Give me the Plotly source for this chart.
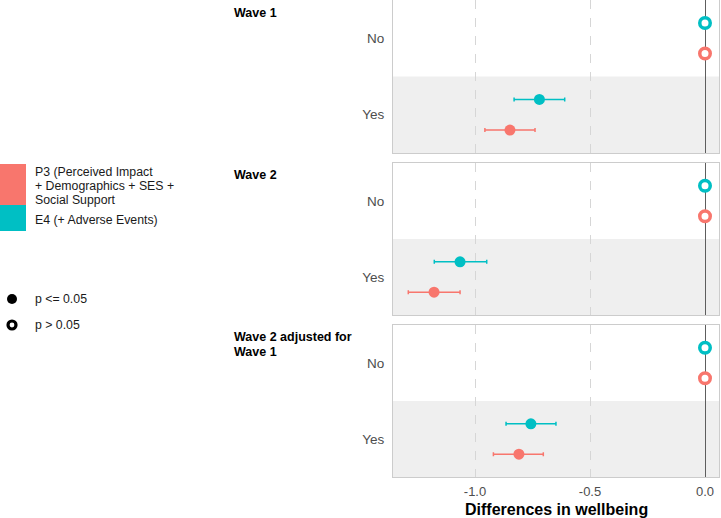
import plotly.graph_objects as go

# ---------------- data ----------------
panel_titles = ["Wave 1", "Wave 2", "Wave 2 adjusted for<br>Wave 1"]
categories = ["No", "Yes"]
model_names = ["P3 (Perceived Impact + Demographics + SES + Social Support", "E4 (+ Adverse Events)"]
legend_lines_p3 = ["P3 (Perceived Impact", "+ Demographics + SES +", "Social Support"]
legend_line_e4 = "E4 (+ Adverse Events)"
p_labels = ["p <= 0.05", "p > 0.05"]

# estimates per panel, [No, Yes]
p3_est = [[0.0, -0.848], [0.0, -1.178], [0.0, -0.809]]
p3_lo = [[0.0, -0.957], [0.0, -1.290], [0.0, -0.920]]
p3_hi = [[0.0, -0.739], [0.0, -1.065], [0.0, -0.703]]
p3_sig = [[False, True], [False, True], [False, True]]

e4_est = [[0.0, -0.720], [0.0, -1.065], [0.0, -0.757]]
e4_lo = [[0.0, -0.830], [0.0, -1.177], [0.0, -0.865]]
e4_hi = [[0.0, -0.610], [0.0, -0.949], [0.0, -0.648]]
e4_sig = [[False, True], [False, True], [False, True]]

x_ticks = [-1.0, -0.5, 0.0]
x_tick_text = ["-1.0", "-0.5", "0.0"]

# ---------------- style ----------------
W, H = 721, 518
RED = "#F8766D"
TEAL = "#00BFC4"
FONT = "Liberation Sans, Arial, sans-serif"
px_left, px_right = 393, 719
panel_px = [(0, 153), (163, 315), (325, 477)]
x_range = [(px_left - 705) / 230.0, (px_right - 705) / 230.0]

fig = go.Figure()

def py(p):
    return 1 - p / H

def pxx(p):
    return p / W

model_specs = [
    (e4_est, e4_lo, e4_hi, e4_sig, TEAL, -0.2),
    (p3_est, p3_lo, p3_hi, p3_sig, RED, 0.2),
]

shapes = []
annotations = []
for i, (top, bot) in enumerate(panel_px):
    n = "" if i == 0 else str(i + 1)
    xa = "x" + n
    ya = "y" + n
    layout_x = "xaxis" + n
    layout_y = "yaxis" + n
    xd = dict(
        domain=[pxx(px_left), pxx(px_right)], range=x_range, anchor=ya,
        tickvals=x_ticks, ticktext=x_tick_text, showticklabels=(i == 2),
        showgrid=True, gridcolor="#D6D6D6", griddash="dash", gridwidth=1,
        zeroline=True, zerolinecolor="#5E5E5E", zerolinewidth=1.3,
        showline=True, mirror=True, linecolor="#CCCCCC", linewidth=1,
        ticks="", ticklabelstandoff=2,
        tickfont=dict(family=FONT, size=13, color="#4D4D4D"),
    )
    if i > 0:
        xd["matches"] = "x"
    fig.update_layout({
        layout_x: xd,
        layout_y: dict(
            domain=[py(bot), py(top)], range=[2.5, 0.5], anchor=xa,
            tickvals=[1, 2], ticktext=categories, showgrid=False, zeroline=False,
            showline=True, mirror=True, linecolor="#CCCCCC", linewidth=1, ticks="",
            ticklabelstandoff=5, tickfont=dict(family=FONT, size=13.5, color="#4D4D4D"),
        ),
    })
    # shaded band for "Yes"
    shapes.append(dict(type="rect", xref=xa + " domain", yref=ya, x0=0, x1=1, y0=1.5, y1=2.5,
                       fillcolor="#EFEFEF", line_width=0, layer="below"))
    for est, lo, hi, sig, col, off in model_specs:
        e = est[i]
        ys = [k + 1 + off for k in range(len(categories))]
        fig.add_trace(go.Scatter(
            x=e, y=ys, xaxis=xa, yaxis=ya, mode="markers", showlegend=False,
            error_x=dict(type="data", symmetric=False,
                         array=[h - v for h, v in zip(hi[i], e)],
                         arrayminus=[v - l for v, l in zip(e, lo[i])],
                         color=col, thickness=1.5, width=2),
            marker=dict(
                symbol="circle", opacity=1,
                size=[11 if s else 10.5 for s in sig[i]],
                color=[col if s else "white" for s in sig[i]],
                line=dict(color=col, width=[0 if s else 3.5 for s in sig[i]]),
            ),
        ))

# panel titles
title_y = [13, 175, 337]
for i, t in enumerate(panel_titles):
    for j, ln in enumerate(t.split("<br>")):
        annotations.append(dict(text="<b>" + ln + "</b>", x=pxx(232), y=py(title_y[i] + 15 * j),
                                xref="paper", yref="paper", xanchor="left", yanchor="middle",
                                showarrow=False, font=dict(family=FONT, size=12.5, color="black")))

# x axis title
annotations.append(dict(text="<b>Differences in wellbeing</b>", x=pxx((px_left + px_right) / 2),
                        y=py(509), xref="paper", yref="paper", xanchor="center", yanchor="middle",
                        showarrow=False, font=dict(family=FONT, size=16, color="black")))

# colour legend
shapes.append(dict(type="rect", xref="paper", yref="paper", x0=0, x1=pxx(26), y0=py(205), y1=py(164),
                   fillcolor=RED, line_width=0))
shapes.append(dict(type="rect", xref="paper", yref="paper", x0=0, x1=pxx(26), y0=py(231), y1=py(205),
                   fillcolor=TEAL, line_width=0))
for j, ln in enumerate(legend_lines_p3):
    annotations.append(dict(text=ln, x=pxx(33), y=py(172 + 14 * j), xref="paper", yref="paper",
                            xanchor="left", yanchor="middle", showarrow=False,
                            font=dict(family=FONT, size=12.3, color="#1A1A1A")))
annotations.append(dict(text=legend_line_e4, x=pxx(33), y=py(219.5), xref="paper", yref="paper",
                        xanchor="left", yanchor="middle", showarrow=False,
                        font=dict(family=FONT, size=12.3, color="#1A1A1A")))

# significance legend
for j, lab in enumerate(p_labels):
    yc = 299 + 26 * j
    if j == 0:
        shapes.append(dict(type="circle", xref="paper", yref="paper", xsizemode="pixel", ysizemode="pixel",
                           xanchor=pxx(12), yanchor=py(yc), x0=-5, x1=5, y0=-5, y1=5,
                           fillcolor="black", line=dict(color="black", width=0)))
    else:
        shapes.append(dict(type="circle", xref="paper", yref="paper", xsizemode="pixel", ysizemode="pixel",
                           xanchor=pxx(12), yanchor=py(yc), x0=-4, x1=4, y0=-4, y1=4,
                           fillcolor="white", line=dict(color="black", width=3.2)))
    annotations.append(dict(text=lab, x=pxx(33), y=py(yc), xref="paper", yref="paper",
                            xanchor="left", yanchor="middle", showarrow=False,
                            font=dict(family=FONT, size=12.3, color="#1A1A1A")))

fig.update_layout(
    width=W, height=H, margin=dict(l=0, r=0, t=0, b=0),
    paper_bgcolor="white", plot_bgcolor="white",
    shapes=shapes, annotations=annotations, showlegend=False,
)

fig.write_html("out.html")
